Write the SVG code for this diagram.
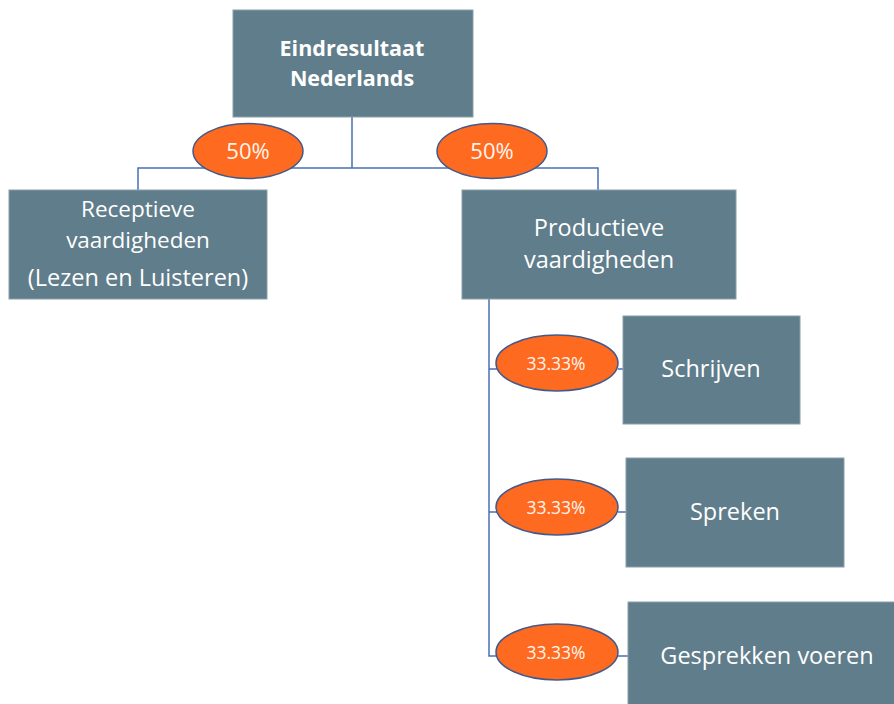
<svg xmlns="http://www.w3.org/2000/svg" width="894" height="704" viewBox="0 0 894 704">
<style>
.box{fill:#607d8b;stroke:#8aa0ab;stroke-width:1}
.ell{fill:#fd6a20;stroke:#44598a;stroke-width:1.5}
.t{font-family:"Open Sans","Liberation Sans",sans-serif;fill:#ffffff;text-anchor:middle;font-size:23.5px}
.p{font-family:"Open Sans","Liberation Sans",sans-serif;fill:#fff4ec;text-anchor:middle}
.ln{fill:none;stroke:#4a6fb5;stroke-width:1.5}
</style>
<rect width="894" height="704" fill="#ffffff"/>
<g id="connectors">
<path class="ln" d="M352 117 V168 M138 190 V168 H598 V190"/>
<path class="ln" d="M489 299 V656 H497 M489 369 H497 M489 512 H497 M618 369 H623 M618 512 H626 M618 656 H628"/>
</g>
<g id="n-root"><rect class="box" x="233" y="10" width="240" height="107"/>
<text class="t" x="352" y="56" style="font-size:21.5px" font-weight="bold">Eindresultaat</text>
<text class="t" x="352" y="86" style="font-size:21.5px" font-weight="bold">Nederlands</text></g>
<g id="n-receptief"><rect class="box" x="9" y="190" width="258" height="109"/>
<text class="t" x="138" y="217" style="font-size:22.5px">Receptieve</text>
<text class="t" x="138" y="248" style="font-size:22.5px">vaardigheden</text>
<text class="t" x="138" y="286">(Lezen en Luisteren)</text></g>
<g id="n-productief"><rect class="box" x="462" y="190" width="274" height="109"/>
<text class="t" x="599" y="236">Productieve</text>
<text class="t" x="599" y="268">vaardigheden</text></g>
<g id="n-schrijven"><rect class="box" x="623" y="316" width="177" height="108"/>
<text class="t" x="711" y="377">Schrijven</text></g>
<g id="n-spreken"><rect class="box" x="626" y="458" width="218" height="109"/>
<text class="t" x="735" y="520">Spreken</text></g>
<g id="n-gesprekken"><rect class="box" x="628" y="602" width="270" height="106"/>
<text class="t" x="767" y="664">Gesprekken voeren</text></g>
<g id="w-left"><ellipse class="ell" cx="248" cy="151" rx="55" ry="27.5"/>
<text class="p" x="248" y="159" font-size="22">50%</text></g>
<g id="w-right"><ellipse class="ell" cx="492" cy="151" rx="55" ry="27.5"/>
<text class="p" x="492" y="159" font-size="22">50%</text></g>
<g id="w-schrijven"><ellipse class="ell" cx="557" cy="363" rx="61" ry="28"/>
<text class="p" x="556" y="370" font-size="17.5">33.33%</text></g>
<g id="w-spreken"><ellipse class="ell" cx="557" cy="507" rx="61" ry="28"/>
<text class="p" x="556" y="514" font-size="17.5">33.33%</text></g>
<g id="w-gesprekken"><ellipse class="ell" cx="557" cy="652" rx="61" ry="28"/>
<text class="p" x="556" y="659" font-size="17.5">33.33%</text></g>
</svg>
